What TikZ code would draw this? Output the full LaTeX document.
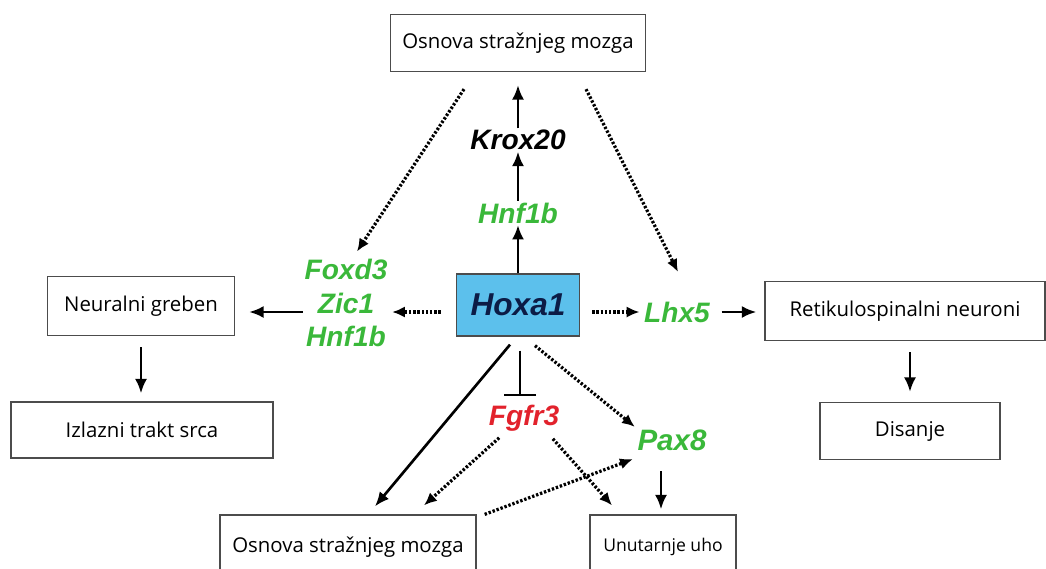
\documentclass[tikz,border=0pt]{standalone}
\usepackage{fontspec}
\setmainfont{Open Sans}
\newfontfamily\genfont{Liberation Sans}
\usetikzlibrary{arrows.meta}

\definecolor{zelena}{RGB}{58,184,58}
\definecolor{crvena}{RGB}{226,34,44}
\definecolor{plava}{RGB}{92,192,236}
\definecolor{tamna}{RGB}{12,28,70}

\tikzset{
  okvir/.style={draw=black!70, line width=0.9pt, inner sep=0pt, font=\fontsize{14.5}{17}\selectfont},
  gen/.style={font=\genfont\bfseries\itshape\fontsize{20}{23.8}\selectfont, inner sep=1pt, align=center},
  puna/.style={line width=1.9pt, -{Latex[length=3.6mm,width=3mm]}},
  tocke/.style={line width=2.3pt, dash pattern=on 1.7pt off 1.3pt, -{Latex[length=3.2mm,width=2.8mm]}},
  koci/.style={line width=1.9pt, -{Bar[width=8mm,line width=1.9pt]}}
}

\begin{document}
\begin{tikzpicture}[x=0.025cm, y=-0.025cm]
\useasboundingbox (0,0) rectangle (1046,568);

% okviri
\node[okvir, minimum width=6.375cm, minimum height=1.425cm] (gore) at (518,43) {Osnova stražnjeg mozga};
\node[okvir, minimum width=4.675cm, minimum height=1.475cm] (greben) at (141,306) {Neuralni greben};
\node[okvir, minimum width=6.55cm, minimum height=1.4cm] (srce) at (142,430) {Izlazni trakt srca};
\node[okvir, minimum width=7cm, minimum height=1.475cm] (retiku) at (905,311) {Retikulospinalni neuroni};
\node[okvir, minimum width=4.5cm, minimum height=1.425cm] (disanje) at (910,431) {Disanje};
\node[okvir, minimum width=6.4cm, minimum height=1.6cm] (donji) at (348,547) {Osnova stražnjeg mozga};
\node[okvir, minimum width=3.65cm, minimum height=1.6cm, font=\fontsize{12.5}{15}\selectfont] (uho) at (663,547) {Unutarnje uho};

% geni
\node[okvir, fill=plava, minimum width=3.075cm, minimum height=1.55cm, gen, text=tamna, font=\genfont\bfseries\itshape\fontsize{22.5}{26}\selectfont] (hoxa) at (518,305) {Hoxa1};
\node[gen] (krox) at (518,140) {Krox20};
\node[gen, text=zelena] (hnfa) at (518,213) {Hnf1b};
\node[gen, text=zelena] (grupa) at (346,303) {Foxd3\\Zic1\\Hnf1b};
\node[gen, text=zelena] (lhx) at (677,312) {Lhx5};
\node[gen, text=crvena] (fgfr) at (524,418) {Fgfr3};
\node[gen, text=zelena, font=\genfont\bfseries\itshape\fontsize{21}{25}\selectfont] (pax) at (672,440) {Pax8};

% veze
\draw[puna] (hoxa.north) -- (hnfa);
\draw[puna] (hnfa) -- (krox);
\draw[puna] (krox) -- ([shift={(0,13)}]gore.south);
\draw[tocke] ([shift={(-54,17)}]gore.south) -- ([shift={(11,-6)}]grupa.north);
\draw[tocke] ([shift={(68,17)}]gore.south) -- ([shift={(1,-28)}]lhx.north);
\draw[tocke] ([shift={(-15,7)}]hoxa.west) -- ([shift={(3,9)}]grupa.east);
\draw[puna] ([shift={(0,9)}]grupa.west) -- ([shift={(14,6)}]greben.east);
\draw[puna] ([shift={(0,11)}]greben.south) -- ([shift={(-1,-8)}]srce.north);
\draw[tocke] ([shift={(12,7)}]hoxa.east) -- ([shift={(-3,0)}]lhx.west);
\draw[puna] ([shift={(10,0)}]lhx.east) -- ([shift={(-8,1)}]retiku.west);
\draw[puna] ([shift={(5,11)}]retiku.south) -- ([shift={(0,-10)}]disanje.north);
\draw[koci] ([shift={(2,14)}]hoxa.south) -- ([shift={(-4,-7)}]fgfr.north);
\draw[puna] ([shift={(-8,8)}]hoxa.south) -- ([shift={(27,-8)}]donji.north);
\draw[tocke] ([shift={(17,9)}]hoxa.south) -- ([shift={(-1,-1)}]pax.north west);
\draw[tocke] ([shift={(12,5)}]fgfr.south west) -- ([shift={(76,-9)}]donji.north);
\draw[tocke] ([shift={(-8,6)}]fgfr.south east) -- ([shift={(-51,-9)}]uho.north);
\draw[tocke] ([shift={(8,0)}]donji.north east) -- ([shift={(-3,7)}]pax.south west);
\draw[puna] ([shift={(-11,19)}]pax.south) -- ([shift={(-2,-5)}]uho.north);
\end{tikzpicture}
\end{document}
